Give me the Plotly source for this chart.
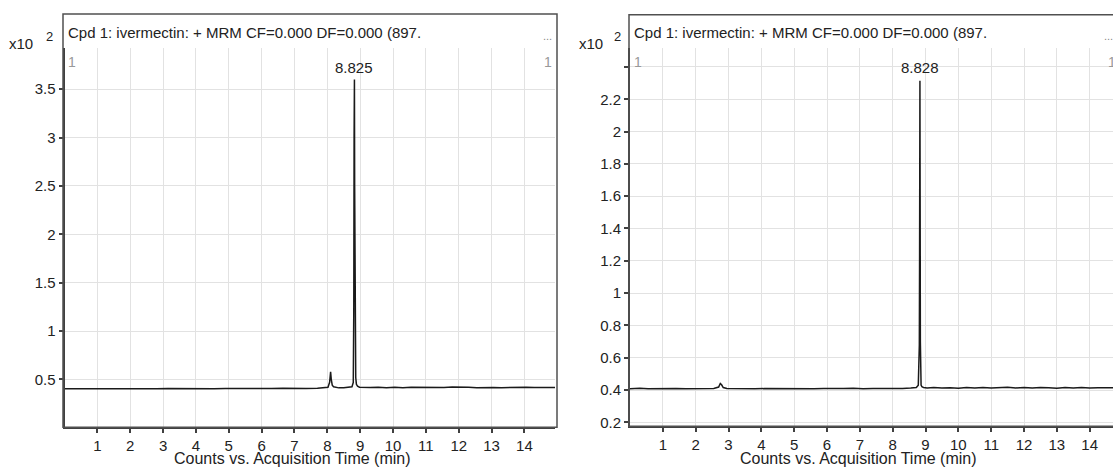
import plotly.graph_objects as go

# ---------------- data (counts in x10^2) ----------------
left_time = [0.00, 0.35, 0.70, 1.05, 1.40, 1.75, 2.10, 2.45, 2.80, 3.15,
             3.50, 3.85, 4.20, 4.55, 4.90, 5.25, 5.60, 5.95, 6.30, 6.65,
             7.00, 7.35, 7.70, 7.90, 8.02, 8.07, 8.10, 8.12, 8.15, 8.19,
             8.25, 8.35, 8.50, 8.65, 8.75, 8.79, 8.805, 8.815, 8.825, 8.832,
             8.840, 8.850, 8.865, 8.885, 8.92, 8.98, 9.10, 9.30, 9.55, 9.80,
             10.05, 10.30, 10.55, 10.80, 11.05, 11.30, 11.55, 11.80, 12.05, 12.30,
             12.55, 12.80, 13.05, 13.30, 13.55, 13.80, 14.05, 14.30, 14.55, 14.80,
             14.95]
left_counts = [0.405, 0.404, 0.406, 0.403, 0.405, 0.407, 0.404, 0.405, 0.403, 0.406,
               0.404, 0.405, 0.407, 0.404, 0.406, 0.405, 0.408, 0.404, 0.406, 0.409,
               0.405, 0.407, 0.410, 0.412, 0.420, 0.470, 0.580, 0.500, 0.440, 0.425,
               0.418, 0.413, 0.415, 0.418, 0.425, 0.470, 1.200, 3.000, 3.600, 2.500,
               1.900, 0.900, 0.520, 0.450, 0.430, 0.420, 0.418, 0.416, 0.420, 0.415,
               0.419, 0.414, 0.418, 0.416, 0.420, 0.415, 0.417, 0.421, 0.416, 0.418,
               0.415, 0.419, 0.417, 0.414, 0.418, 0.416, 0.420, 0.417, 0.415, 0.418,
               0.416]

right_time = [0.00, 0.30, 0.55, 0.80, 1.10, 1.40, 1.70, 2.00, 2.30, 2.55,
              2.70, 2.75, 2.79, 2.84, 2.95, 3.20, 3.50, 3.80, 4.10, 4.40,
              4.70, 5.00, 5.30, 5.60, 5.90, 6.20, 6.50, 6.80, 7.10, 7.40,
              7.70, 8.00, 8.30, 8.55, 8.72, 8.78, 8.80, 8.812, 8.820, 8.826,
              8.830, 8.836, 8.843, 8.852, 8.865, 8.89, 8.94, 9.05, 9.25, 9.50,
              9.75, 10.00, 10.25, 10.50, 10.75, 11.00, 11.25, 11.50, 11.75, 12.00,
              12.25, 12.50, 12.75, 13.00, 13.25, 13.50, 13.75, 14.00, 14.25, 14.50,
              14.95]
right_counts = [0.408, 0.411, 0.407, 0.409, 0.408, 0.410, 0.407, 0.409, 0.408, 0.410,
                0.418, 0.440, 0.432, 0.415, 0.409, 0.408, 0.410, 0.407, 0.409, 0.408,
                0.410, 0.408, 0.409, 0.407, 0.410, 0.408, 0.409, 0.411, 0.408, 0.410,
                0.409, 0.411, 0.410, 0.412, 0.415, 0.430, 0.560, 0.680, 1.250, 2.150,
                2.315, 1.600, 0.700, 0.470, 0.430, 0.420, 0.416, 0.413, 0.415, 0.412,
                0.414, 0.411, 0.415, 0.413, 0.416, 0.412, 0.414, 0.417, 0.413, 0.415,
                0.412, 0.416, 0.414, 0.411, 0.415, 0.413, 0.416, 0.412, 0.414, 0.415,
                0.413]

x_ticks = list(range(1, 15))
left_y_ticks = [0.5, 1.0, 1.5, 2.0, 2.5, 3.0, 3.5]
left_y_labels = ["0.5", "1", "1.5", "2", "2.5", "3", "3.5"]
right_y_ticks = [0.2, 0.4, 0.6, 0.8, 1.0, 1.2, 1.4, 1.6, 1.8, 2.0, 2.2, 2.4]
right_y_labels = ["0.2", "0.4", "0.6", "0.8", "1", "1.2", "1.4", "1.6", "1.8", "2", "2.2", ""]

title_text = "Cpd 1: ivermectin: + MRM CF=0.000 DF=0.000 (897."
left_peak_label = "8.825"
right_peak_label = "8.828"
x_title = "Counts vs. Acquisition Time (min)"

# ---------------- layout helpers ----------------
W, H = 1113, 470
FONT = "Liberation Sans, Arial, sans-serif"
def px(x):
    return x / W
def py(y):
    return (H - y) / H

fig = go.Figure()
fig.add_trace(go.Scatter(x=left_time, y=left_counts, mode="lines",
                         line=dict(color="#1a1a1a", width=1.5),
                         xaxis="x", yaxis="y", showlegend=False))
fig.add_trace(go.Scatter(x=right_time, y=right_counts, mode="lines",
                         line=dict(color="#1a1a1a", width=1.5),
                         xaxis="x2", yaxis="y2", showlegend=False))

axis_common = dict(showline=True, linecolor="#404040", linewidth=2,
                   ticks="outside", ticklen=4, tickwidth=1.5, tickcolor="#404040",
                   showgrid=True, gridcolor="#e2e2e2", gridwidth=1, zeroline=False,
                   tickfont=dict(family=FONT, size=15, color="#222"))

fig.update_layout(
    width=W, height=H,
    margin=dict(l=0, r=0, t=0, b=0),
    paper_bgcolor="white", plot_bgcolor="white",
    xaxis=dict(domain=[px(64.5), px(555)], range=[0, 14.93],
               tickvals=x_ticks, anchor="y", **axis_common),
    yaxis=dict(domain=[py(431), py(48)], range=[0.005, 3.93],
               tickvals=left_y_ticks, ticktext=left_y_labels, anchor="x", **axis_common),
    xaxis2=dict(domain=[px(630), 1.0], range=[0, 14.71],
                tickvals=x_ticks, anchor="y2", **axis_common),
    yaxis2=dict(domain=[py(430), py(48)], range=[0.175, 2.52],
                tickvals=right_y_ticks, ticktext=right_y_labels, anchor="x2", **axis_common),
)

# frames around each panel (including title band)
fig.add_shape(type="rect", xref="paper", yref="paper",
              x0=px(63), x1=px(557), y0=py(431), y1=py(14),
              line=dict(color="#505050", width=1.5), layer="above")
fig.add_shape(type="rect", xref="paper", yref="paper",
              x0=px(629), x1=px(1125), y0=py(430), y1=py(15),
              line=dict(color="#505050", width=1.5), layer="above")

ann = []
def text(x, y, s, size=15, color="#222", xanchor="center", xref="paper"):
    ann.append(dict(x=x, y=y, xref=xref, yref="paper", text=s, showarrow=False,
                    xanchor=xanchor, yanchor="middle",
                    font=dict(family=FONT, size=size, color=color)))

# left panel texts
text(px(66), py(33), title_text, xanchor="left")
text(px(547), py(36), "...", size=11, color="#888")
text(px(72), py(63), "1", size=14, color="#999")
text(px(548), py(63), "1", size=14, color="#999")
text(8.825, py(68), left_peak_label, size=15, xref="x")
text(px(21), py(44), "x10", size=15)
text(px(49), py(37), "2", size=13)
text(px(292), py(462), x_title, size=16)

# right panel texts
text(px(632), py(33), title_text, xanchor="left")
text(px(1108), py(36), "...", size=11, color="#888")
text(px(638), py(63), "1", size=14, color="#999")
text(px(1112), py(63), "1", size=14, color="#999")
text(8.828, py(68), right_peak_label, size=15, xref="x2")
text(px(591), py(44), "x10", size=15)
text(px(617), py(37), "2", size=13)
text(px(858), py(462), x_title, size=16)

fig.update_layout(annotations=ann)
fig.write_html("out.html")
